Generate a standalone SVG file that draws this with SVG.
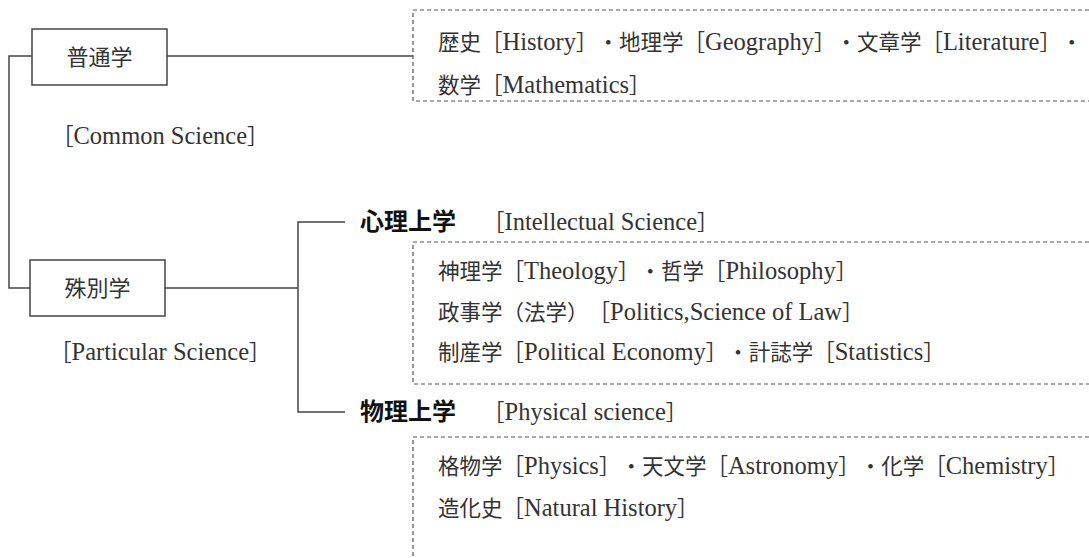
<svg xmlns="http://www.w3.org/2000/svg" width="1089" height="558" viewBox="0 0 1089 558">
<style>
text{text-spacing-trim:space-all}
.t{font-family:"Liberation Serif","Noto Sans CJK JP",serif;font-size:24.5px;fill:#333}
.c{font-family:"Noto Sans CJK JP","Noto Sans CJK SC",sans-serif;font-size:21.5px}
.k{font-family:"Noto Sans CJK JP","Noto Sans CJK SC",sans-serif;font-size:22px;fill:#333}
.b{font-family:"Noto Sans CJK JP","Noto Sans CJK SC",sans-serif;font-size:24px;font-weight:bold;fill:#111}
.box{fill:#fff;stroke:#444;stroke-width:1.5}
.ln{fill:none;stroke:#444;stroke-width:1.5}
.dash{fill:none;stroke:#555;stroke-width:1.2;stroke-dasharray:4 3}
</style>
<rect width="1089" height="558" fill="#fff"/>
<g id="connectors">
<path class="ln" d="M32,56 H9 V288 H30"/>
<path class="ln" d="M167,56 H413"/>
<path class="ln" d="M165,288 H298"/>
<path class="ln" d="M345,222 H298 V412 H345"/>
</g>
<g id="common">
<rect class="box" x="32" y="29" width="135" height="56"/>
<text class="k" x="99.5" y="65" text-anchor="middle">普通学</text>
<text class="t" x="52" y="144"><tspan class="c">［</tspan>Common Science<tspan class="c">］</tspan></text>
</g>
<g id="common-list">
<path class="dash" d="M1089,10 H413 V101 H1089"/>
<text class="t" x="438" y="50"><tspan class="c">歴史［</tspan>History<tspan class="c">］・地理学［</tspan>Geography<tspan class="c">］・文章学［</tspan>Literature<tspan class="c">］・</tspan></text>
<text class="t" x="438" y="93"><tspan class="c">数学［</tspan>Mathematics<tspan class="c">］</tspan></text>
</g>
<g id="particular">
<rect class="box" x="30" y="260" width="135" height="56"/>
<text class="k" x="97.5" y="296" text-anchor="middle">殊別学</text>
<text class="t" x="50" y="360"><tspan class="c">［</tspan>Particular Science<tspan class="c">］</tspan></text>
</g>
<g id="intellectual">
<text class="b" x="360" y="230">心理上学</text>
<text class="t" x="483" y="230"><tspan class="c">［</tspan>Intellectual Science<tspan class="c">］</tspan></text>
<path class="dash" d="M1089,242 H413 V384 H1089"/>
<text class="t" x="438" y="279"><tspan class="c">神理学［</tspan>Theology<tspan class="c">］・哲学［</tspan>Philosophy<tspan class="c">］</tspan></text>
<text class="t" x="438" y="320"><tspan class="c">政事学（法学）［</tspan>Politics,Science of Law<tspan class="c">］</tspan></text>
<text class="t" x="438" y="360"><tspan class="c">制産学［</tspan>Political Economy<tspan class="c">］・計誌学［</tspan>Statistics<tspan class="c">］</tspan></text>
</g>
<g id="physical">
<text class="b" x="360" y="420">物理上学</text>
<text class="t" x="483" y="420"><tspan class="c">［</tspan>Physical science<tspan class="c">］</tspan></text>
<path class="dash" d="M1089,437 H413 V558"/>
<text class="t" x="438" y="474"><tspan class="c">格物学［</tspan>Physics<tspan class="c">］・天文学［</tspan>Astronomy<tspan class="c">］・化学［</tspan>Chemistry<tspan class="c">］</tspan></text>
<text class="t" x="438" y="516"><tspan class="c">造化史［</tspan>Natural History<tspan class="c">］</tspan></text>
</g>
</svg>
